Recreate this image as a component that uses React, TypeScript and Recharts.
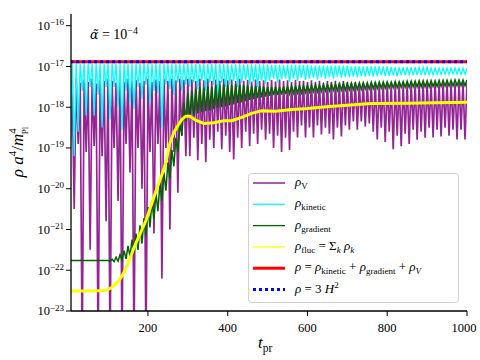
import React from 'react';
import { LineChart, Line, XAxis, YAxis } from 'recharts';

// Sampling grid for the densely oscillating series (t_pr)
const T_START = 5;
const T_STEP = 5;

// log10 of rho_V  (troughs / peaks)
const rhoVLog = [
  -19.0, -17.35, -20.5, -17.3, -18.9, -17.4, -24, -17.32, -19.1, -17.38, -21.5, -17.3, -18.95, -17.42, -24, -17.33, -19.2, -17.36, -20.8, -17.3,
  -24, -17.35, -19.0, -17.4, -20.3, -17.32, -24, -17.38, -18.9, -17.3, -19.6, -17.36, -24, -17.33, -19.0, -17.4, -20.0, -17.35, -24, -17.3,
  -19.1, -17.38, -21.1, -17.32, -18.9, -17.36, -22.2, -17.3, -19.0, -17.35, -21.0, -17.3, -19.1, -17.34, -20.1, -17.3, -18.7, -17.33, -19.2, -17.3,
  -19.2, -17.32, -18.75, -17.35, -19.3, -17.3, -18.9, -17.34, -19.35, -17.3, -18.8, -17.36, -19.0, -17.32, -18.6, -17.35, -19.03, -17.3, -18.7, -17.34,
  -19.1, -17.32, -19.28, -17.36, -18.75, -17.3, -19.0, -17.35, -18.6, -17.33, -18.96, -17.37, -18.65, -17.32, -18.9, -17.36, -18.55, -17.34, -18.8, -17.38,
  -18.65, -17.33, -19.0, -17.37, -18.7, -17.32, -19.1, -17.36, -18.75, -17.34, -19.05, -17.38, -18.6, -17.33, -18.74, -17.36, -18.45, -17.35, -18.74, -17.38,
  -18.5, -17.34, -18.74, -17.38, -18.45, -17.35, -18.67, -17.4, -18.5, -17.36, -18.65, -17.38, -18.79, -17.35, -18.5, -17.4, -18.72, -17.36, -18.45, -17.38,
  -18.55, -17.4, -18.35, -17.38, -18.55, -17.42, -18.35, -17.4, -18.47, -17.42, -18.4, -17.4, -18.6, -17.38, -18.79, -17.42, -18.5, -17.4, -18.85, -17.38,
  -18.6, -17.42, -19.03, -17.4, -18.7, -17.38, -18.96, -17.42, -18.65, -17.4, -18.9, -17.38, -18.55, -17.42, -18.8, -17.4, -18.6, -17.38, -18.75, -17.4,
  -18.5, -17.4, -18.74, -17.38, -18.55, -17.42, -18.72, -17.4, -18.5, -17.38, -18.7, -17.4, -18.55, -17.42, -18.79, -17.4, -18.55, -17.38, -18.79, -17.4,
];

// log10 of rho_kinetic
const rhoKineticLog = [
  -19.0, -16.93, -19.2, -16.93, -18.6, -16.93, -17.6, -16.93, -18.2, -16.93, -17.5, -16.93, -18.2, -16.93, -17.7, -16.93, -18.5, -16.93, -17.5, -16.93,
  -18.3, -16.93, -17.5, -16.93, -18.0, -16.93, -18.55, -16.93, -17.6, -16.93, -17.9, -16.93, -18.05, -16.93, -17.5, -16.93, -17.8, -16.93, -17.45, -16.93,
  -17.9, -16.93, -17.6, -16.93, -17.65, -16.93, -18.5, -16.93, -17.45, -16.93, -17.55, -16.93, -17.7, -16.93, -17.4, -16.93, -17.6, -16.93, -17.45, -16.93,
  -17.5, -16.94, -17.4, -16.94, -17.55, -16.94, -17.35, -16.94, -17.6, -16.94, -17.4, -16.94, -17.45, -16.94, -17.75, -16.94, -17.4, -16.94, -17.5, -16.94,
  -17.45, -16.95, -17.35, -16.95, -17.5, -16.95, -17.4, -16.95, -17.33, -16.95, -17.45, -16.95, -17.38, -16.95, -17.5, -16.95, -17.35, -16.95, -17.42, -16.95,
  -17.35, -16.96, -17.3, -16.96, -17.4, -16.96, -17.32, -16.96, -17.3, -16.96, -17.38, -16.96, -17.3, -16.96, -17.35, -16.96, -17.28, -16.96, -17.33, -16.96,
  -17.3, -16.98, -17.28, -16.98, -17.32, -16.98, -17.27, -16.98, -17.3, -16.98, -17.26, -16.98, -17.3, -16.98, -17.25, -16.98, -17.28, -16.98, -17.26, -16.98,
  -17.26, -17.0, -17.25, -17.0, -17.27, -17.0, -17.24, -17.0, -17.25, -17.0, -17.23, -17.0, -17.25, -17.0, -17.24, -17.0, -17.22, -17.0, -17.24, -17.0,
  -17.23, -17.02, -17.22, -17.02, -17.24, -17.02, -17.21, -17.02, -17.22, -17.02, -17.2, -17.02, -17.22, -17.02, -17.21, -17.02, -17.2, -17.02, -17.21, -17.02,
  -17.2, -17.04, -17.21, -17.04, -17.19, -17.04, -17.2, -17.04, -17.19, -17.04, -17.2, -17.04, -17.18, -17.04, -17.19, -17.04, -17.2, -17.04, -17.19, -17.04,
];

// log10 of rho_gradient
const rhoGradientLog = [
  -21.76, -21.76, -21.76, -21.76, -21.76, -21.76, -21.76, -21.76, -21.76, -21.76, -21.76, -21.76, -21.76, -21.76, -21.76, -21.76, -21.76, -21.76, -21.76, -21.76,
  -21.78, -21.73, -21.79, -21.68, -21.78, -21.62, -21.76, -21.52, -21.72, -21.4, -21.66, -21.25, -21.58, -21.1, -21.5, -20.9, -21.35, -20.72, -21.15, -20.45,
  -20.95, -20.3, -20.75, -20.1, -20.55, -19.85, -20.3, -19.6, -20.05, -19.35, -19.75, -19.05, -19.45, -18.75, -19.1, -18.4, -18.7, -17.9, -18.35, -17.65,
  -18.25, -17.6, -18.2, -17.55, -18.15, -17.5, -18.12, -17.52, -18.1, -17.48, -18.08, -17.5, -18.05, -17.45, -18.02, -17.47, -18.0, -17.44, -17.98, -17.45,
  -17.95, -17.45, -17.93, -17.44, -17.9, -17.46, -17.88, -17.45, -17.85, -17.46, -17.82, -17.47, -17.8, -17.48, -17.78, -17.48, -17.76, -17.49, -17.74, -17.5,
  -17.72, -17.5, -17.7, -17.5, -17.7, -17.5, -17.69, -17.49, -17.68, -17.49, -17.67, -17.48, -17.66, -17.48, -17.65, -17.47, -17.65, -17.47, -17.64, -17.46,
  -17.63, -17.46, -17.62, -17.45, -17.62, -17.45, -17.61, -17.44, -17.6, -17.44, -17.6, -17.43, -17.59, -17.43, -17.59, -17.42, -17.58, -17.42, -17.58, -17.42,
  -17.57, -17.41, -17.57, -17.41, -17.56, -17.4, -17.56, -17.4, -17.55, -17.4, -17.55, -17.39, -17.54, -17.39, -17.54, -17.38, -17.53, -17.38, -17.53, -17.38,
  -17.52, -17.38, -17.52, -17.37, -17.52, -17.37, -17.51, -17.37, -17.51, -17.36, -17.51, -17.36, -17.5, -17.36, -17.5, -17.35, -17.5, -17.35, -17.5, -17.35,
  -17.5, -17.35, -17.49, -17.35, -17.49, -17.34, -17.49, -17.34, -17.48, -17.34, -17.48, -17.34, -17.48, -17.33, -17.47, -17.33, -17.47, -17.33, -17.47, -17.33,
];

// rho_fluc (smooth), sparse points
const flucT = [5, 50, 95, 110, 125, 135, 145, 155, 170, 195, 220, 235, 245, 255, 265, 275, 285, 295, 305, 320, 340, 365, 390, 410, 435, 460, 485, 520, 555, 600, 655, 700, 760, 850, 920, 1000];
const flucLog = [-22.51, -22.51, -22.5, -22.42, -22.28, -22.14, -21.95, -21.7, -21.33, -20.78, -20.06, -19.65, -19.35, -18.88, -18.62, -18.45, -18.3, -18.22, -18.22, -18.32, -18.4, -18.38, -18.33, -18.33, -18.25, -18.15, -18.09, -18.1, -18.06, -18.03, -17.98, -17.95, -17.91, -17.9, -17.89, -17.88];

// total rho and 3H^2
const totalT = [5, 250, 500, 750, 1000];
const totalLog = [-16.885, -16.885, -16.885, -16.886, -16.886];
const hubbleT = [5, 250, 500, 750, 1000];
const hubbleLog = [-16.885, -16.885, -16.885, -16.886, -16.886];

const yTickExps = [-23, -22, -21, -20, -19, -18, -17, -16];
const xTicks = [200, 400, 600, 800, 1000];

const X_DOMAIN: [number, number] = [7, 1000];
const Y_DOMAIN: [number, number] = [1e-23, 1.936e-16];

const pow10 = (e: number) => Math.pow(10, e);

const tGrid = rhoVLog.map((_, i) => T_START + T_STEP * i);
const data = tGrid.map((t, i) => {
  const fi = flucT.indexOf(t);
  const ti = totalT.indexOf(t);
  const hi = hubbleT.indexOf(t);
  return {
    t,
    rhoV: pow10(rhoVLog[i]),
    rhoKin: pow10(rhoKineticLog[i]),
    rhoGrad: pow10(rhoGradientLog[i]),
    fluc: fi >= 0 ? pow10(flucLog[fi]) : null,
    total: ti >= 0 ? pow10(totalLog[ti]) : null,
    hubble: hi >= 0 ? pow10(hubbleLog[hi]) : null,
  };
});

const yTicks = yTickExps.map((e) => Number('1e' + e));

const SERIF = "'Liberation Serif', 'Times New Roman', serif";
const fontStyle = { fontFamily: SERIF };

const YTick = (props: any) => {
  const { x, y, payload } = props;
  const exp = Math.round(Math.log10(payload.value));
  return (
    <text x={x} y={y + 4.3} textAnchor="end" style={fontStyle} fontSize={12.5} fill="#000">
      <tspan>10</tspan>
      <tspan dy={-4.8} fontSize={9}>{'\u2212' + Math.abs(exp)}</tspan>
    </text>
  );
};

const XTick = (props: any) => {
  const { x, y, payload } = props;
  return (
    <text x={x} y={y + 14} textAnchor="middle" style={fontStyle} fontSize={12.5} fill="#000">
      {payload.value}
    </text>
  );
};

const legendRows = [
  { color: '#800080', width: 1.3, dash: undefined },
  { color: '#00FFFF', width: 1.3, dash: undefined },
  { color: '#006400', width: 1.3, dash: undefined },
  { color: '#FFFF00', width: 1.3, dash: undefined },
  { color: '#FF0000', width: 3, dash: undefined },
  { color: '#0000FF', width: 3, dash: '3 3' },
];

const SUB = 3;

function legendLabel(i: number) {
  const rho = <tspan fontStyle="italic">ρ</tspan>;
  switch (i) {
    case 0:
      return (<>{rho}<tspan dy={SUB} fontSize={9}>V</tspan></>);
    case 1:
      return (<>{rho}<tspan dy={SUB} fontSize={9}>kinetic</tspan></>);
    case 2:
      return (<>{rho}<tspan dy={SUB} fontSize={9}>gradient</tspan></>);
    case 3:
      return (
        <>
          {rho}<tspan dy={SUB} fontSize={9}>fluc</tspan>
          <tspan dy={-SUB}> = Σ</tspan>
          <tspan dy={SUB} fontSize={9} fontStyle="italic">k</tspan>
          <tspan dy={-SUB} fontStyle="italic">{'  ρ'}</tspan>
          <tspan dy={SUB} fontSize={9} fontStyle="italic">k</tspan>
        </>
      );
    case 4:
      return (
        <>
          {rho}<tspan> = </tspan><tspan fontStyle="italic">ρ</tspan>
          <tspan dy={SUB} fontSize={9}>kinetic</tspan>
          <tspan dy={-SUB}> + </tspan><tspan fontStyle="italic">ρ</tspan>
          <tspan dy={SUB} fontSize={9}>gradient</tspan>
          <tspan dy={-SUB}> + </tspan><tspan fontStyle="italic">ρ</tspan>
          <tspan dy={SUB} fontSize={9} fontStyle="italic">V</tspan>
        </>
      );
    default:
      return (
        <>
          {rho}<tspan> = 3 </tspan><tspan fontStyle="italic">H</tspan>
          <tspan dy={-5} fontSize={9}>2</tspan>
        </>
      );
  }
}

export default function App() {
  const rowY = [183, 204.3, 225.6, 246.9, 268.2, 289.5];
  return (
    <div style={{ position: 'absolute', left: 0, top: 0, width: 480, height: 360, background: '#fff' }}>
      <LineChart width={480} height={360} data={data} margin={{ top: 14, right: 13, bottom: 0, left: 0 }}>
        <XAxis
          dataKey="t"
          type="number"
          domain={X_DOMAIN}
          allowDataOverflow
          ticks={xTicks}
          height={49}
          tickSize={5}
          tick={<XTick />}
          axisLine={{ stroke: '#000', strokeWidth: 1.3 }}
          tickLine={{ stroke: '#000', strokeWidth: 1 }}
        />
        <XAxis
          xAxisId="top"
          orientation="top"
          dataKey="t"
          type="number"
          domain={X_DOMAIN}
          allowDataOverflow
          height={0}
          tick={false}
          tickLine={false}
          axisLine={{ stroke: '#000', strokeWidth: 1.3 }}
        />
        <YAxis
          scale="log"
          type="number"
          domain={Y_DOMAIN}
          allowDataOverflow
          ticks={yTicks}
          width={71}
          tickSize={5}
          tick={<YTick />}
          axisLine={{ stroke: '#000', strokeWidth: 1.3 }}
          tickLine={{ stroke: '#000', strokeWidth: 1 }}
        />
        <YAxis
          yAxisId="right"
          orientation="right"
          type="number"
          domain={[0, 1]}
          width={0}
          tick={false}
          tickLine={false}
          axisLine={{ stroke: '#000', strokeWidth: 1.3 }}
        />
        <Line dataKey="rhoV" stroke="#800080" strokeOpacity={0.85} strokeWidth={1.7} dot={false} isAnimationActive={false} />
        <Line dataKey="rhoKin" stroke="#00FFFF" strokeWidth={1.3} dot={false} isAnimationActive={false} />
        <Line dataKey="rhoGrad" stroke="#006400" strokeWidth={1.5} dot={false} isAnimationActive={false} />
        <Line dataKey="fluc" stroke="#FFFF00" strokeWidth={3} dot={false} connectNulls isAnimationActive={false} />
        <Line dataKey="total" stroke="#FF0000" strokeWidth={3} dot={false} connectNulls isAnimationActive={false} />
        <Line dataKey="hubble" stroke="#0000FF" strokeWidth={3} strokeDasharray="3 3" dot={false} connectNulls isAnimationActive={false} />
      </LineChart>
      <svg width={480} height={360} style={{ position: 'absolute', left: 0, top: 0, pointerEvents: 'none', fontFamily: SERIF }}>
        <text x={90} y={38.5} fontSize={14} fill="#000" style={fontStyle}>
          <tspan fontStyle="italic" style={{ fontFamily: "'DejaVu Serif', serif" }} fontSize={12.5}>{'\u03B1\u0303'}</tspan>
          <tspan> = 10</tspan>
          <tspan dy={-5} fontSize={10}>−4</tspan>
        </text>
        <text transform="translate(23,152) rotate(-90)" textAnchor="middle" fontSize={17} fill="#000" style={fontStyle}>
          <tspan fontStyle="italic">ρ a</tspan>
          <tspan dy={-7} fontSize={11}>4</tspan>
          <tspan dy={7}>/</tspan>
          <tspan fontStyle="italic">m</tspan>
          <tspan dy={-7} fontSize={11}>4</tspan>
          <tspan dx={-6} dy={12} fontSize={9}>Pl</tspan>
        </text>
        <text x={258} y={348} fontSize={17} fill="#000" style={fontStyle}>
          <tspan fontStyle="italic">t</tspan>
          <tspan dy={4} fontSize={11.5}>pr</tspan>
        </text>
        <rect x={248.5} y={173.5} width={210} height={129} rx={3} fill="#fff" fillOpacity={0.8} stroke="#d0d0d0" strokeWidth={1} />
        {legendRows.map((r, i) => (
          <g key={i}>
            <line x1={253} x2={285} y1={rowY[i]} y2={rowY[i]} stroke={r.color} strokeWidth={r.width} strokeDasharray={r.dash} />
            <text x={295} y={rowY[i] + 3} fontSize={13} fill="#000" style={fontStyle}>{legendLabel(i)}</text>
          </g>
        ))}
      </svg>
    </div>
  );
}
